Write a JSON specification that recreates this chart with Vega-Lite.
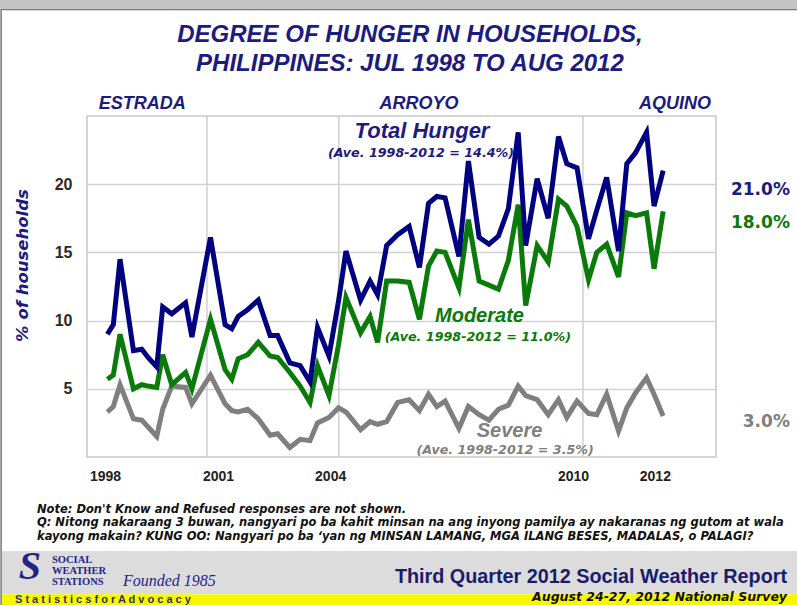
{
  "$schema": "https://vega.github.io/schema/vega-lite/v6.json",
  "width": 629,
  "height": 341,
  "autosize": {"type": "none"},
  "padding": {"left": 87, "top": 116, "right": 81, "bottom": 148},
  "background": "white",
  "data": {"values": [{}]},
  "config": {
    "view": {"stroke": "#c8c8c8", "strokeWidth": 1.5},
    "font": "Liberation Sans",
    "text": {"font": "Liberation Sans", "fontWeight": "bold", "fontStyle": "italic"}
  },
  "datasets": {
    "hunger": [
      {"t": 1998.55, "total": 9.0, "moderate": 5.7, "severe": 3.3},
      {"t": 1998.70, "total": 9.7, "moderate": 6.0, "severe": 3.7},
      {"t": 1998.87, "total": 14.5, "moderate": 9.0, "severe": 5.3},
      {"t": 1999.21, "total": 7.8, "moderate": 5.0, "severe": 2.8},
      {"t": 1999.42, "total": 7.9, "moderate": 5.3, "severe": 2.7},
      {"t": 1999.58, "total": 7.3, "moderate": 5.2, "severe": 2.2},
      {"t": 1999.80, "total": 6.6, "moderate": 5.1, "severe": 1.5},
      {"t": 1999.95, "total": 11.0, "moderate": 7.5, "severe": 3.5},
      {"t": 2000.18, "total": 10.5, "moderate": 5.3, "severe": 5.2},
      {"t": 2000.53, "total": 11.3, "moderate": 6.2, "severe": 5.1},
      {"t": 2000.69, "total": 8.8, "moderate": 5.0, "severe": 3.9},
      {"t": 2001.16, "total": 16.1, "moderate": 10.1, "severe": 6.0},
      {"t": 2001.53, "total": 9.7, "moderate": 6.4, "severe": 3.9},
      {"t": 2001.70, "total": 9.4, "moderate": 5.7, "severe": 3.4},
      {"t": 2001.86, "total": 10.3, "moderate": 7.2, "severe": 3.3},
      {"t": 2002.10, "total": 10.8, "moderate": 7.5, "severe": 3.5},
      {"t": 2002.37, "total": 11.5, "moderate": 8.4, "severe": 2.8},
      {"t": 2002.67, "total": 8.9, "moderate": 7.4, "severe": 1.6},
      {"t": 2002.86, "total": 8.9, "moderate": 7.3, "severe": 1.7},
      {"t": 2003.17, "total": 6.9, "moderate": 6.2, "severe": 0.7},
      {"t": 2003.43, "total": 6.7, "moderate": 5.2, "severe": 1.3},
      {"t": 2003.68, "total": 5.5, "moderate": 4.0, "severe": 1.2},
      {"t": 2003.87, "total": 9.5, "moderate": 6.7, "severe": 2.5},
      {"t": 2004.16, "total": 7.4, "moderate": 4.5, "severe": 2.9},
      {"t": 2004.40, "total": 11.4, "moderate": 8.2, "severe": 3.6},
      {"t": 2004.59, "total": 15.1, "moderate": 11.7, "severe": 3.3},
      {"t": 2004.96, "total": 11.5, "moderate": 9.1, "severe": 2.0},
      {"t": 2005.20, "total": 12.9, "moderate": 10.3, "severe": 2.6},
      {"t": 2005.39, "total": 11.9, "moderate": 8.4, "severe": 2.4},
      {"t": 2005.62, "total": 15.5, "moderate": 12.9, "severe": 2.6},
      {"t": 2005.90, "total": 16.3, "moderate": 12.9, "severe": 4.0},
      {"t": 2006.19, "total": 16.9, "moderate": 12.8, "severe": 4.2},
      {"t": 2006.45, "total": 13.9, "moderate": 10.1, "severe": 3.4},
      {"t": 2006.68, "total": 18.6, "moderate": 14.0, "severe": 4.6},
      {"t": 2006.89, "total": 19.1, "moderate": 15.1, "severe": 3.7},
      {"t": 2007.10, "total": 19.0, "moderate": 15.0, "severe": 4.1},
      {"t": 2007.45, "total": 14.7, "moderate": 12.4, "severe": 2.1},
      {"t": 2007.69, "total": 21.7, "moderate": 17.4, "severe": 3.7},
      {"t": 2007.96, "total": 16.1, "moderate": 12.9, "severe": 3.1},
      {"t": 2008.21, "total": 15.6, "moderate": 12.6, "severe": 2.7},
      {"t": 2008.45, "total": 16.2, "moderate": 12.3, "severe": 3.5},
      {"t": 2008.70, "total": 18.2, "moderate": 14.4, "severe": 3.8},
      {"t": 2008.95, "total": 23.8, "moderate": 18.5, "severe": 5.2},
      {"t": 2009.14, "total": 15.5, "moderate": 11.1, "severe": 4.5},
      {"t": 2009.43, "total": 20.4, "moderate": 15.5, "severe": 4.2},
      {"t": 2009.71, "total": 17.5, "moderate": 14.3, "severe": 3.1},
      {"t": 2009.97, "total": 23.5, "moderate": 18.9, "severe": 4.2},
      {"t": 2010.18, "total": 21.5, "moderate": 18.4, "severe": 2.9},
      {"t": 2010.44, "total": 21.2, "moderate": 16.9, "severe": 4.1},
      {"t": 2010.73, "total": 16.0, "moderate": 13.0, "severe": 3.2},
      {"t": 2010.94, "total": 18.1, "moderate": 15.0, "severe": 3.1},
      {"t": 2011.19, "total": 20.5, "moderate": 15.6, "severe": 4.6},
      {"t": 2011.49, "total": 15.1, "moderate": 13.2, "severe": 1.9},
      {"t": 2011.70, "total": 21.5, "moderate": 17.9, "severe": 3.6},
      {"t": 2011.92, "total": 22.3, "moderate": 17.7, "severe": 4.7},
      {"t": 2012.20, "total": 23.8, "moderate": 17.9, "severe": 5.8},
      {"t": 2012.39, "total": 18.4, "moderate": 13.8, "severe": 4.6},
      {"t": 2012.62, "total": 21.0, "moderate": 18.0, "severe": 3.0}
    ]
  },
  "layer": [
    {"mark": {"type": "rect", "color": "#c4c4c4"}, "encoding": {"x": {"datum": 1995.7}, "x2": {"datum": 2016.2}, "y": {"datum": 34.0}, "y2": {"datum": 32.85}}},
    {"mark": {"type": "rect", "color": "#c4c4c4"}, "encoding": {"x": {"datum": 1995.7}, "x2": {"datum": 1995.84}, "y": {"datum": 34.0}, "y2": {"datum": -11.0}}},
    {"mark": {"type": "rule", "color": "#7a7a7a", "strokeWidth": 1.5}, "encoding": {"x": {"datum": 1995.86}, "y": {"datum": 32.85}, "y2": {"datum": -11.0}}},
    {"mark": {"type": "rule", "color": "#7a7a7a", "strokeWidth": 1.2}, "encoding": {"x": {"datum": 1995.86}, "x2": {"datum": 2016.2}, "y": {"datum": 32.8}}},
    {"mark": {"type": "rect", "color": "#dcdcdc"}, "encoding": {"x": {"datum": 1995.88}, "x2": {"datum": 2016.2}, "y": {"datum": -6.9}, "y2": {"datum": -10.07}}},
    {"mark": {"type": "rect", "color": "#f7f700"}, "encoding": {"x": {"datum": 1995.88}, "x2": {"datum": 2016.2}, "y": {"datum": -10.07}, "y2": {"datum": -11.0}}},
    {"mark": {"type": "rule", "color": "#cfcfcf", "strokeWidth": 1.5}, "encoding": {"x": {"datum": 2001.07}}},
    {"mark": {"type": "rule", "color": "#cfcfcf", "strokeWidth": 1.5}, "encoding": {"x": {"datum": 2004.41}}},
    {"mark": {"type": "rule", "color": "#cfcfcf", "strokeWidth": 1.5}, "encoding": {"x": {"datum": 2010.59}}},
    {
      "data": {"name": "hunger"},
      "mark": {"type": "line", "color": "#7f7f7f", "strokeWidth": 5},
      "encoding": {
        "x": {"field": "t", "type": "quantitative", "scale": {"domain": [1998.034, 2013.958], "nice": false, "zero": false}},
        "y": {"field": "severe", "type": "quantitative", "scale": {"domain": [0, 25], "nice": false, "zero": false}}
      }
    },
    {
      "data": {"name": "hunger"},
      "mark": {"type": "line", "color": "#0a7a0a", "strokeWidth": 5},
      "encoding": {
        "x": {"field": "t", "type": "quantitative", "scale": {"domain": [1998.034, 2013.958], "nice": false, "zero": false}},
        "y": {"field": "moderate", "type": "quantitative", "scale": {"domain": [0, 25], "nice": false, "zero": false}}
      }
    },
    {
      "data": {"name": "hunger"},
      "mark": {"type": "line", "color": "#000080", "strokeWidth": 5},
      "encoding": {
        "x": {
          "field": "t", "type": "quantitative",
          "scale": {"domain": [1998.034, 2013.958], "nice": false, "zero": false},
          "axis": {
            "orient": "bottom",
            "values": [1998.49, 2001.35, 2004.19, 2010.34, 2012.41],
            "labelExpr": "'' + floor(datum.value)",
            "grid": false, "domain": false, "ticks": false, "title": null,
            "labelFont": "Liberation Sans", "labelFontWeight": "bold", "labelFontSize": 14,
            "labelColor": "#222222", "labelPadding": 12, "labelFlush": false, "labelOverlap": false
          }
        },
        "y": {
          "field": "total", "type": "quantitative",
          "scale": {"domain": [0, 25], "nice": false, "zero": false},
          "axis": {
            "orient": "left",
            "values": [5, 10, 15, 20],
            "grid": true, "gridColor": "#d2d2d2", "gridWidth": 1.5,
            "domain": false, "ticks": false,
            "labelFont": "Liberation Sans", "labelFontWeight": "bold", "labelFontSize": 16,
            "labelColor": "#2a2a2a", "labelPadding": 15,
            "title": "% of households",
            "titleFont": "DejaVu Sans", "titleFontWeight": "bold", "titleFontStyle": "italic",
            "titleFontSize": 16.5, "titleColor": "#1b1b80",
            "titleX": -65, "titleY": 149, "titleAngle": 270, "titleBaseline": "middle", "titleAlign": "center"
          }
        }
      }
    },
    {"mark": {"type": "text", "fontSize": 24, "color": "#1b1b80"}, "encoding": {"x": {"datum": 2006.21}, "y": {"datum": 30.95}, "text": {"value": "DEGREE OF HUNGER IN HOUSEHOLDS,"}}},
    {"mark": {"type": "text", "fontSize": 24, "color": "#1b1b80"}, "encoding": {"x": {"datum": 2006.21}, "y": {"datum": 28.83}, "text": {"value": "PHILIPPINES: JUL 1998 TO AUG 2012"}}},
    {"mark": {"type": "text", "fontSize": 18, "color": "#1b1b80"}, "encoding": {"x": {"datum": 1999.43}, "y": {"datum": 25.9}, "text": {"value": "ESTRADA"}}},
    {"mark": {"type": "text", "fontSize": 18, "color": "#1b1b80"}, "encoding": {"x": {"datum": 2006.44}, "y": {"datum": 25.9}, "text": {"value": "ARROYO"}}},
    {"mark": {"type": "text", "fontSize": 18, "color": "#1b1b80"}, "encoding": {"x": {"datum": 2012.92}, "y": {"datum": 25.9}, "text": {"value": "AQUINO"}}},
    {"mark": {"type": "text", "fontSize": 22, "color": "#1b1b80"}, "encoding": {"x": {"datum": 2006.515}, "y": {"datum": 23.92}, "text": {"value": "Total Hunger"}}},
    {"mark": {"type": "text", "fontSize": 12.7, "font": "DejaVu Sans", "color": "#1b1b80"}, "encoding": {"x": {"datum": 2006.49}, "y": {"datum": 22.31}, "text": {"value": "(Ave. 1998-2012 = 14.4%)"}}},
    {"mark": {"type": "text", "fontSize": 20, "color": "#0a7a0a"}, "encoding": {"x": {"datum": 2007.97}, "y": {"datum": 10.31}, "text": {"value": "Moderate"}}},
    {"mark": {"type": "text", "fontSize": 12.7, "font": "DejaVu Sans", "color": "#0a7a0a"}, "encoding": {"x": {"datum": 2007.93}, "y": {"datum": 8.8}, "text": {"value": "(Ave. 1998-2012 = 11.0%)"}}},
    {"mark": {"type": "text", "fontSize": 20, "color": "#808080"}, "encoding": {"x": {"datum": 2008.73}, "y": {"datum": 1.89}, "text": {"value": "Severe"}}},
    {"mark": {"type": "text", "fontSize": 12.7, "font": "DejaVu Sans", "color": "#808080"}, "encoding": {"x": {"datum": 2008.62}, "y": {"datum": 0.48}, "text": {"value": "(Ave. 1998-2012 = 3.5%)"}}},
    {"mark": {"type": "text", "fontSize": 17, "font": "DejaVu Sans", "fontStyle": "normal", "align": "right", "color": "#1b1b80"}, "encoding": {"x": {"datum": 2015.83}, "y": {"datum": 19.6}, "text": {"value": "21.0%"}}},
    {"mark": {"type": "text", "fontSize": 17, "font": "DejaVu Sans", "fontStyle": "normal", "align": "right", "color": "#0a7a0a"}, "encoding": {"x": {"datum": 2015.83}, "y": {"datum": 17.18}, "text": {"value": "18.0%"}}},
    {"mark": {"type": "text", "fontSize": 17, "font": "DejaVu Sans", "fontStyle": "normal", "align": "right", "color": "#808080"}, "encoding": {"x": {"datum": 2015.83}, "y": {"datum": 2.6}, "text": {"value": "3.0%"}}},
    {"mark": {"type": "text", "fontSize": 11.5, "font": "DejaVu Sans", "align": "left", "color": "#111111"}, "encoding": {"x": {"datum": 1996.768}, "y": {"datum": -3.85}, "text": {"value": "Note: Don't Know and Refused responses are not shown."}}},
    {"mark": {"type": "text", "fontSize": 11.5, "font": "DejaVu Sans", "align": "left", "color": "#111111"}, "encoding": {"x": {"datum": 1996.768}, "y": {"datum": -4.87}, "text": {"value": "Q: Nitong nakaraang 3 buwan, nangyari po ba kahit minsan na ang inyong pamilya ay nakaranas ng gutom at wala"}}},
    {"mark": {"type": "text", "fontSize": 11.5, "font": "DejaVu Sans", "align": "left", "color": "#111111"}, "encoding": {"x": {"datum": 1996.768}, "y": {"datum": -5.86}, "text": {"value": "kayong makain?  KUNG OO: Nangyari po ba ‘yan ng MINSAN LAMANG, MGA ILANG BESES, MADALAS, o PALAGI?"}}},
    {"mark": {"type": "text", "fontSize": 40, "font": "Liberation Serif", "color": "#23238a"}, "encoding": {"x": {"datum": 1996.59}, "y": {"datum": -8.1}, "text": {"value": "S"}}},
    {"mark": {"type": "text", "fontSize": 10.5, "font": "Liberation Serif", "fontStyle": "normal", "align": "left", "color": "#23238a"}, "encoding": {"x": {"datum": 1997.148}, "y": {"datum": -7.58}, "text": {"value": "SOCIAL"}}},
    {"mark": {"type": "text", "fontSize": 10.5, "font": "Liberation Serif", "fontStyle": "normal", "align": "left", "color": "#23238a"}, "encoding": {"x": {"datum": 1997.148}, "y": {"datum": -8.39}, "text": {"value": "WEATHER"}}},
    {"mark": {"type": "text", "fontSize": 10.5, "font": "Liberation Serif", "fontStyle": "normal", "align": "left", "color": "#23238a"}, "encoding": {"x": {"datum": 1997.148}, "y": {"datum": -9.19}, "text": {"value": "STATIONS"}}},
    {"mark": {"type": "text", "fontSize": 16, "font": "Liberation Serif", "fontWeight": "normal", "align": "left", "color": "#23238a"}, "encoding": {"x": {"datum": 1998.945}, "y": {"datum": -9.1}, "text": {"value": "Founded 1985"}}},
    {"mark": {"type": "text", "fontSize": 11, "fontStyle": "normal", "align": "left", "color": "#333366"}, "encoding": {"x": {"datum": 1996.211}, "y": {"datum": -10.5}, "text": {"value": "S t a t i s t i c s     f o r     A d v o c a c y"}}},
    {"mark": {"type": "text", "fontSize": 19.8, "fontStyle": "normal", "align": "right", "color": "#1b1b6e"}, "encoding": {"x": {"datum": 2015.756}, "y": {"datum": -8.83}, "text": {"value": "Third Quarter 2012 Social Weather Report"}}},
    {"mark": {"type": "text", "fontSize": 12.5, "font": "DejaVu Sans", "align": "right", "color": "#111111"}, "encoding": {"x": {"datum": 2015.756}, "y": {"datum": -10.3}, "text": {"value": "August 24-27, 2012 National Survey"}}}
  ]
}
